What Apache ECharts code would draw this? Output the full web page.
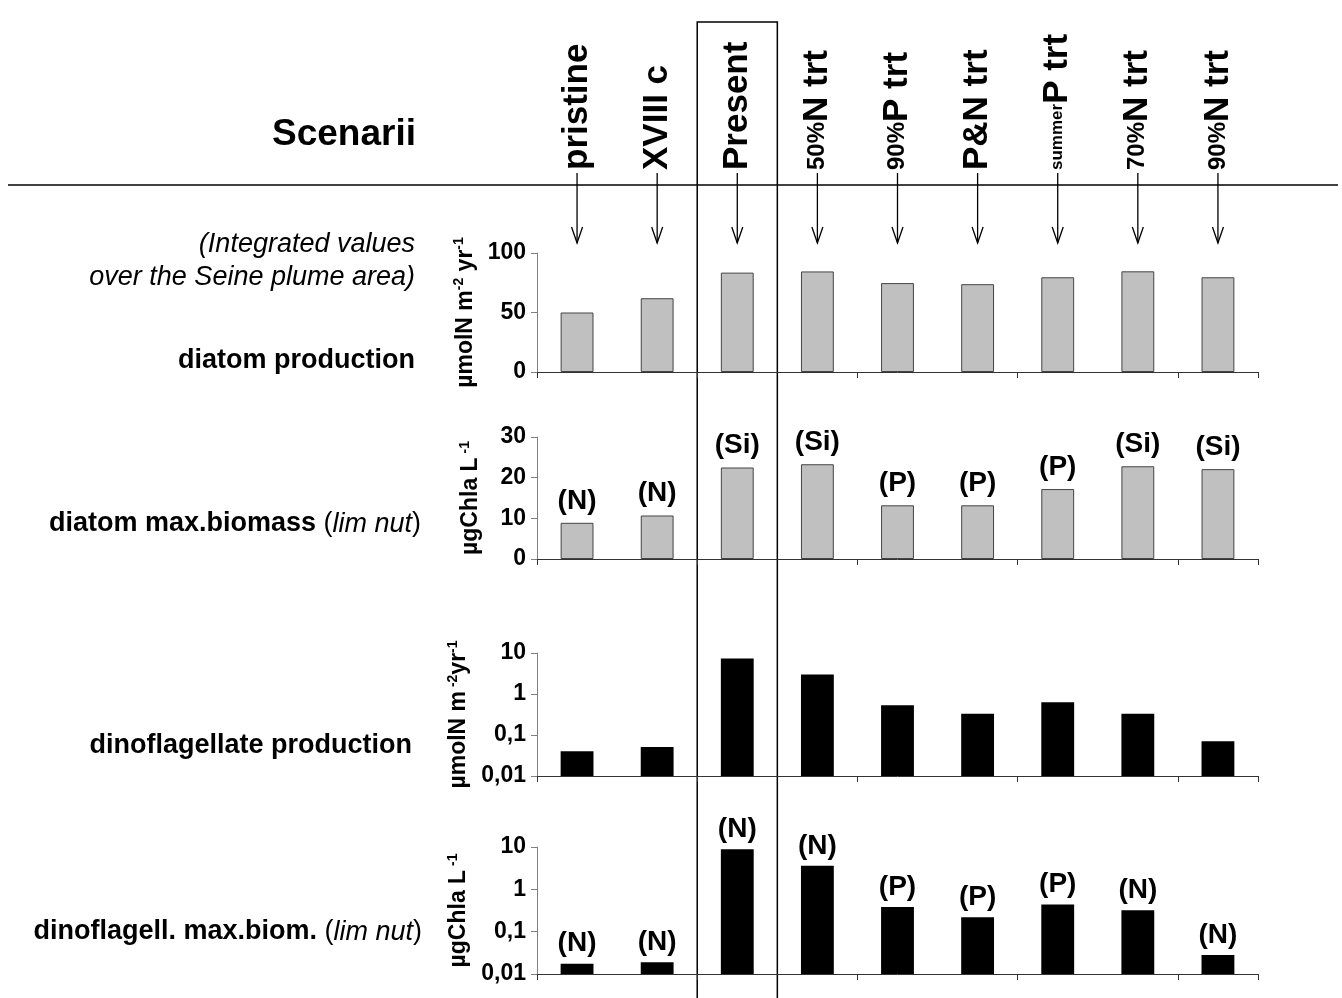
<!DOCTYPE html>
<html>
<head>
<meta charset="utf-8">
<script src="https://cdn.jsdelivr.net/npm/echarts@6/dist/echarts.min.js"></script>
<style>
html,body{margin:0;padding:0;background:#fff}
#main{width:1342px;height:998px}
</style>
</head>
<body>
<div id="main"></div>
<script>
// scenarios (categories)
var scenarios = ['pristine', 'XVIII c', 'Present', '50%N trt', '90%P trt', 'P&N trt', 'summerP trt', '70%N trt', '90%N trt'];
var scenarioText = ['{b|pristine}', '{b|XVIII c}', '{b|Present}', '{m|50%}{b|N trt}', '{m|90%}{b|P trt}',
    '{b|P&N trt}', '{s|summer}{b|P trt}', '{m|70%}{b|N trt}', '{m|90%}{b|N trt}'];

// values
var diatomProd = [50, 62, 83.5, 84.5, 74.7, 73.8, 79.6, 84.6, 79.6];      // µmolN m-2 yr-1
var diatomBiom = [8.9, 10.7, 22.5, 23.3, 13.2, 13.2, 17.2, 22.8, 22.1];    // µgChla L-1
var diatomLim = ['(N)', '(N)', '(Si)', '(Si)', '(P)', '(P)', '(P)', '(Si)', '(Si)'];
var dinoProd = [0.04, 0.051, 7.3, 3.0, 0.53, 0.33, 0.63, 0.33, 0.07];      // log scale
var dinoBiom = [0.0175, 0.019, 8.8, 3.6, 0.38, 0.22, 0.44, 0.32, 0.028];   // log scale
var dinoLim = ['(N)', '(N)', '(N)', '(N)', '(P)', '(P)', '(P)', '(N)', '(N)'];
var logMin = 0.01, logMax = 10;

var FONT = '"Liberation Sans", Arial, sans-serif';

var gridTops = [253, 437, 653, 847];
var gridHeights = [119, 122, 123, 127];

var myChart = echarts.init(document.getElementById('main'));

function commafy(v) {
    return (+(+v).toPrecision(2)).toString().replace('.', ',');
}

var nameRich = {
    a: { fontFamily: FONT, fontWeight: 'bold', fontSize: 23, color: '#000', lineHeight: 26 },
    s: { fontFamily: FONT, fontWeight: 'bold', fontSize: 14, color: '#000', verticalAlign: 'top', lineHeight: 26 }
};

var grids = [], xAxes = [], yAxes = [], series = [];
for (var i = 0; i < 4; i++) {
    grids.push({ left: 537, right: 84, top: gridTops[i], height: gridHeights[i] });
    xAxes.push({
        type: 'category', gridIndex: i, data: scenarios,
        axisLine: { lineStyle: { color: '#333', width: 1 } },
        axisTick: { show: true, length: 6, lineStyle: { color: '#333' } },
        axisLabel: { show: false }
    });
}

var yBase = {
    axisLine: { show: true, lineStyle: { color: '#808080', width: 1 } },
    axisTick: { show: true, length: 6, lineStyle: { color: '#808080' } },
    axisLabel: { fontFamily: FONT, fontWeight: 'bold', fontSize: 23, color: '#000', margin: 11 },
    splitLine: { show: false },
    nameLocation: 'middle', nameRotate: 90, nameGap: 53,
    nameTextStyle: { rich: nameRich }
};

yAxes.push(Object.assign({}, yBase, { type: 'value', gridIndex: 0, min: 0, max: 100, interval: 50,
    name: '{a|µmolN m}{s|-2}{a| yr}{s|-1}' }));
yAxes.push(Object.assign({}, yBase, { type: 'value', gridIndex: 1, min: 0, max: 30, interval: 10,
    name: '{a|µgChla L}{s| -1}' }));
yAxes.push(Object.assign({}, yBase, { type: 'log', logBase: 10, gridIndex: 2, min: logMin, max: logMax,
    name: '{a|µmolN m}{s| -2}{a|yr}{s|-1}',
    axisLabel: Object.assign({}, yBase.axisLabel, { formatter: commafy }) }));
yAxes.push(Object.assign({}, yBase, { type: 'log', logBase: 10, gridIndex: 3, min: logMin, max: logMax,
    name: '{a|µgChla L}{s| -1}',
    axisLabel: Object.assign({}, yBase.axisLabel, { formatter: commafy }) }));

var labelFont = 'bold 28px ' + FONT;

series.push({ type: 'bar', xAxisIndex: 0, yAxisIndex: 0, data: diatomProd, barWidth: '41%',
    itemStyle: { color: '#C0C0C0', borderColor: '#444', borderWidth: 1 } });
series.push({ type: 'bar', xAxisIndex: 1, yAxisIndex: 1, data: diatomBiom, barWidth: '41%',
    itemStyle: { color: '#C0C0C0', borderColor: '#444', borderWidth: 1 },
    label: {
        show: true, position: 'top', distance: 8,
        fontFamily: FONT, fontWeight: 'bold', fontSize: 28, color: '#000',
        formatter: function (p) { return diatomLim[p.dataIndex]; }
    } });

// log-scale bars must start at the axis minimum, so draw them as custom rectangles
function logBars(labels) {
    return function (params, api) {
        var idx = api.value(0);
        var top = api.coord([idx, api.value(1)]);
        var base = api.coord([idx, logMin]);
        var w = api.size([1, 0])[0] * 0.41;
        var children = [{
            type: 'rect',
            shape: { x: top[0] - w / 2, y: top[1], width: w, height: base[1] - top[1] },
            style: { fill: '#000' }
        }];
        if (labels) {
            children.push({
                type: 'text', x: top[0], y: top[1] - 6,
                style: { text: labels[idx], font: labelFont, fill: '#000', align: 'center', verticalAlign: 'bottom' }
            });
        }
        return { type: 'group', children: children };
    };
}
series.push({ type: 'custom', xAxisIndex: 2, yAxisIndex: 2,
    data: dinoProd.map(function (v, k) { return [k, v]; }),
    encode: { x: 0, y: 1 }, renderItem: logBars(null) });
series.push({ type: 'custom', xAxisIndex: 3, yAxisIndex: 3,
    data: dinoBiom.map(function (v, k) { return [k, v]; }),
    encode: { x: 0, y: 1 }, renderItem: logBars(dinoLim) });

var option = {
    backgroundColor: '#fff',
    animation: false,
    grid: grids,
    xAxis: xAxes,
    yAxis: yAxes,
    series: series
};
myChart.setOption(option);

// annotations placed through the category axis
var band = (1342 - 84 - 537) / scenarios.length;
var g = [];
var topRich = {
    b: { fontFamily: FONT, fontWeight: 'bold', fontSize: 35, fill: '#000' },
    m: { fontFamily: FONT, fontWeight: 'bold', fontSize: 24, fill: '#000' },
    s: { fontFamily: FONT, fontWeight: 'bold', fontSize: 17, fill: '#000' }
};
for (var k = 0; k < scenarios.length; k++) {
    var cx = myChart.convertToPixel({ xAxisIndex: 0 }, scenarios[k]);
    g.push({ type: 'text', x: cx, y: 170, rotation: Math.PI / 2,
        style: { text: scenarioText[k], rich: topRich, align: 'left', verticalAlign: 'middle' } });
    g.push({ type: 'line', shape: { x1: cx, y1: 173, x2: cx, y2: 243 }, style: { stroke: '#000', lineWidth: 1.3 } });
    g.push({ type: 'polyline', shape: { points: [[cx - 5.5, 227], [cx, 243], [cx + 5.5, 227]] },
        style: { stroke: '#000', fill: null, lineWidth: 1.3 } });
}
var px = myChart.convertToPixel({ xAxisIndex: 0 }, 'Present');
g.push({ type: 'polyline', shape: { points: [[px - band / 2, 998], [px - band / 2, 22], [px + band / 2, 22], [px + band / 2, 998]] },
    style: { stroke: '#000', fill: null, lineWidth: 1.5 } });
g.push({ type: 'line', shape: { x1: 8, y1: 185, x2: 1338, y2: 185 }, style: { stroke: '#000', lineWidth: 1.5 } });

var leftRich = {
    b: { fontFamily: FONT, fontWeight: 'bold', fontSize: 27, fill: '#000' },
    r: { fontFamily: FONT, fontSize: 27, fill: '#000' },
    i: { fontFamily: FONT, fontStyle: 'italic', fontSize: 27, fill: '#000' },
    t: { fontFamily: FONT, fontWeight: 'bold', fontSize: 37, fill: '#000' },
    n: { fontFamily: FONT, fontStyle: 'italic', fontSize: 27, fill: '#000' }
};
var lt = [
    [416, 135, '{t|Scenarii}'],
    [415, 244, '{n|(Integrated values}'],
    [415, 277, '{n|over the Seine plume area)}'],
    [415, 361, '{b|diatom production}'],
    [421, 524, '{b|diatom max.biomass }{r|(}{i|lim nut}{r|)}'],
    [412, 746, '{b|dinoflagellate production}'],
    [422, 932, '{b|dinoflagell. max.biom. }{r|(}{i|lim nut}{r|)}']
];
for (var j = 0; j < lt.length; j++) {
    g.push({ type: 'text', x: lt[j][0], y: lt[j][1],
        style: { text: lt[j][2], rich: leftRich, align: 'right', verticalAlign: 'middle' } });
}
myChart.setOption({ graphic: g });
</script>
</body>
</html>
